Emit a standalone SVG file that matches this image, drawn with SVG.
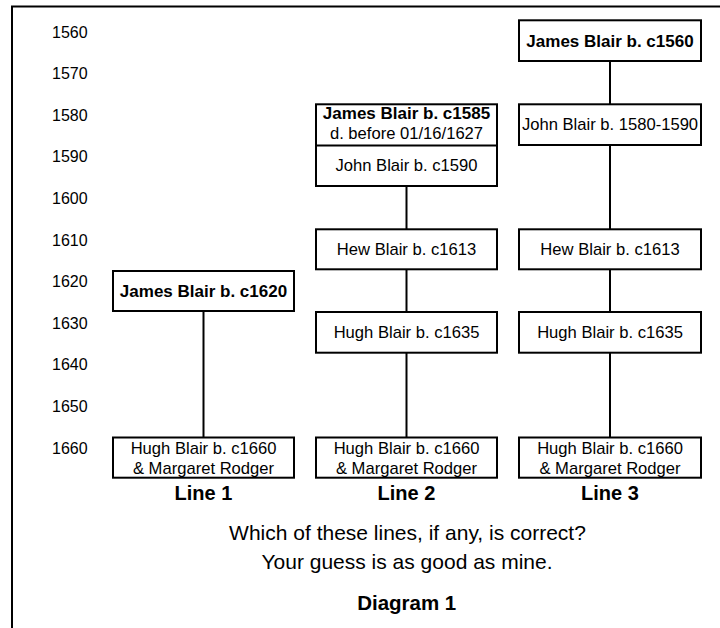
<svg xmlns="http://www.w3.org/2000/svg" width="720" height="628" viewBox="0 0 720 628">
<style>
.box{fill:#fff;stroke:#000;stroke-width:2}
.c{stroke:#000;stroke-width:2;fill:none}
text{font-family:"Liberation Sans",Arial,sans-serif;fill:#000}
.yr{font-size:16px}
.n{font-size:16.6px;text-anchor:middle}
.nb{font-size:17px;font-weight:bold;text-anchor:middle}
.ln{font-size:20px;font-weight:bold;text-anchor:middle}
.q{font-size:21px;text-anchor:middle}
.d{font-size:20.5px;font-weight:bold;text-anchor:middle}
</style>
<rect x="0" y="0" width="720" height="628" fill="#fff"/>
<path d="M12 628 V6.5 H720" fill="none" stroke="#000" stroke-width="2"/>
<g id="years">
<text class="yr" x="52" y="37.5">1560</text>
<text class="yr" x="52" y="79.1">1570</text>
<text class="yr" x="52" y="120.7">1580</text>
<text class="yr" x="52" y="162.3">1590</text>
<text class="yr" x="52" y="203.9">1600</text>
<text class="yr" x="52" y="245.5">1610</text>
<text class="yr" x="52" y="287.1">1620</text>
<text class="yr" x="52" y="328.7">1630</text>
<text class="yr" x="52" y="370.3">1640</text>
<text class="yr" x="52" y="411.9">1650</text>
<text class="yr" x="52" y="453.5">1660</text>
</g>
<g id="connectors">
<line class="c" x1="203.5" y1="311" x2="203.5" y2="437.5"/>
<line class="c" x1="406.5" y1="186" x2="406.5" y2="229.3"/>
<line class="c" x1="406.5" y1="269.3" x2="406.5" y2="312"/>
<line class="c" x1="406.5" y1="352.7" x2="406.5" y2="437.5"/>
<line class="c" x1="610" y1="61" x2="610" y2="104.3"/>
<line class="c" x1="610" y1="145" x2="610" y2="229.3"/>
<line class="c" x1="610" y1="269.3" x2="610" y2="312"/>
<line class="c" x1="610" y1="352.7" x2="610" y2="437.5"/>
</g>
<g id="l1-james">
<rect class="box" x="113" y="271" width="181" height="40"/>
<text class="nb" x="203.5" y="297">James Blair b. c1620</text>
</g>
<g id="l1-hugh">
<rect class="box" x="113" y="437.5" width="181" height="40.2"/>
<text class="n" x="203.5" y="454">Hugh Blair b. c1660</text>
<text class="n" x="203.5" y="473.5">&amp; Margaret Rodger</text>
</g>
<g id="l2-james-john">
<rect class="box" x="316" y="104.3" width="181" height="81.7"/>
<line class="c" x1="316" y1="145.5" x2="497" y2="145.5"/>
<text class="nb" x="406.5" y="118.5">James Blair b. c1585</text>
<text class="n" x="406.5" y="139">d. before 01/16/1627</text>
<text class="n" x="406.5" y="170.5">John Blair b. c1590</text>
</g>
<g id="l2-hew">
<rect class="box" x="316" y="229.3" width="181" height="40"/>
<text class="n" x="406.5" y="254.5">Hew Blair b. c1613</text>
</g>
<g id="l2-hugh1635">
<rect class="box" x="316" y="312" width="181" height="40.7"/>
<text class="n" x="406.5" y="337.5">Hugh Blair b. c1635</text>
</g>
<g id="l2-hugh1660">
<rect class="box" x="316" y="437.5" width="181" height="40.2"/>
<text class="n" x="406.5" y="454">Hugh Blair b. c1660</text>
<text class="n" x="406.5" y="473.5">&amp; Margaret Rodger</text>
</g>
<g id="l3-james">
<rect class="box" x="519" y="20.3" width="182" height="40.7"/>
<text class="nb" x="610" y="46.5">James Blair b. c1560</text>
</g>
<g id="l3-john">
<rect class="box" x="519" y="104.3" width="182" height="40.7"/>
<text class="n" x="610" y="130">John Blair b. 1580-1590</text>
</g>
<g id="l3-hew">
<rect class="box" x="519" y="229.3" width="182" height="40"/>
<text class="n" x="610" y="254.5">Hew Blair b. c1613</text>
</g>
<g id="l3-hugh1635">
<rect class="box" x="519" y="312" width="182" height="40.7"/>
<text class="n" x="610" y="337.5">Hugh Blair b. c1635</text>
</g>
<g id="l3-hugh1660">
<rect class="box" x="519" y="437.5" width="182" height="40.2"/>
<text class="n" x="610" y="454">Hugh Blair b. c1660</text>
<text class="n" x="610" y="473.5">&amp; Margaret Rodger</text>
</g>
<g id="labels">
<text class="ln" x="203.5" y="499.5">Line 1</text>
<text class="ln" x="406.5" y="499.5">Line 2</text>
<text class="ln" x="610" y="499.5">Line 3</text>
<text class="q" x="407.5" y="540">Which of these lines, if any, is correct?</text>
<text class="q" x="407" y="568.5">Your guess is as good as mine.</text>
<text class="d" x="406.7" y="610">Diagram 1</text>
</g>
</svg>
